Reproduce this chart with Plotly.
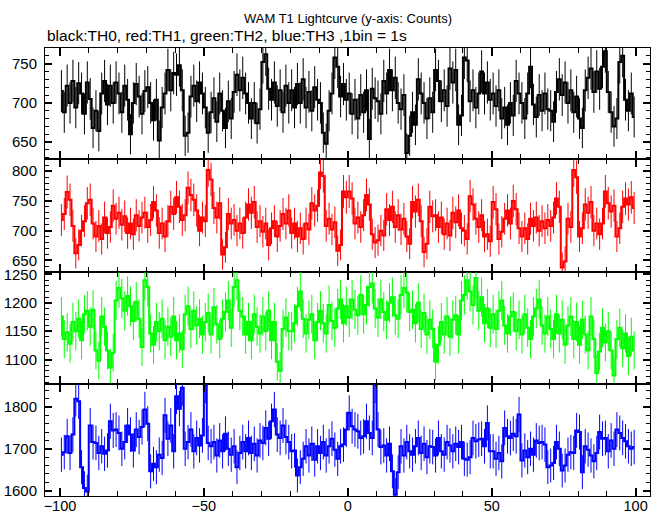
import numpy as np
import plotly.graph_objects as go

# time bins (1 s each), bin centres from -99.5 to 99.5
time_start = -100
n_bins = 200

th0_counts = [
    715, 688, 722, 700, 728, 694, 725, 712, 686, 726,
    705, 668, 690, 664, 712, 728, 698, 722, 700, 726,
    712, 688, 722, 704, 660, 700, 724, 708, 686, 715,
    720, 700, 678, 704, 652, 694, 712, 742, 716, 738,
    736, 748, 716, 658, 662, 708, 722, 702, 726, 712,
    694, 662, 688, 706, 676, 712, 690, 668, 702, 680,
    714, 736, 716, 732, 712, 700, 680, 700, 674, 692,
    752, 762, 718, 704, 726, 696, 716, 688, 722, 700,
    716, 694, 724, 700, 730, 694, 714, 690, 720, 704,
    700, 662, 648, 690, 712, 758, 746, 708, 724, 704,
    712, 686, 704, 680, 710, 688, 716, 654, 718, 706,
    702, 686, 728, 712, 742, 716, 732, 700, 692, 710,
    636, 658, 688, 672, 730, 712, 700, 680, 706, 688,
    742, 728, 702, 716, 696, 744, 726, 742, 672, 684,
    758, 754, 702, 716, 694, 712, 740, 712, 726, 704,
    712, 696, 716, 680, 694, 672, 700, 684, 728, 712,
    700, 680, 712, 746, 698, 682, 710, 690, 712, 692,
    690, 676, 714, 730, 710, 726, 700, 716, 688, 708,
    680, 668, 716, 732, 744, 714, 740, 718, 746, 766,
    714, 688, 670, 680, 752, 760, 704, 690, 712, 682,
]

th1_counts = [
    718, 728, 765, 752, 708, 662, 676, 700, 716, 746,
    752, 712, 690, 708, 686, 722, 696, 706, 742, 720,
    730, 710, 724, 696, 712, 694, 726, 708, 722, 730,
    706, 718, 748, 734, 696, 712, 690, 716, 740, 728,
    756, 740, 718, 726, 772, 760, 752, 734, 700, 722,
    716, 802, 786, 738, 722, 746, 660, 672, 728, 712,
    718, 700, 712, 696, 722, 744, 730, 748, 706, 716,
    698, 712, 676, 704, 716, 690, 708, 728, 712, 734,
    696, 712, 690, 704, 686, 712, 702, 746, 734, 742,
    798, 792, 708, 720, 702, 714, 666, 676, 766, 756,
    766, 754, 712, 722, 706, 726, 760, 744, 694, 680,
    684, 700, 692, 736, 718, 740, 706, 726, 702, 720,
    690, 678, 748, 732, 752, 716, 664, 678, 740, 724,
    726, 706, 722, 694, 712, 692, 730, 714, 734, 704,
    700, 686, 758, 744, 720, 706, 726, 690, 694, 682,
    748, 736, 686, 698, 720, 734, 712, 750, 736, 704,
    690, 704, 686, 720, 708, 722, 700, 716, 704, 718,
    708, 722, 754, 740, 638, 648, 720, 706, 802, 790,
    690, 704, 744, 730, 748, 700, 712, 694, 712, 766,
    746, 732, 742, 690, 704, 740, 754, 744, 756, 738,
]

th2_counts = [
    1176, 1136, 1148, 1128, 1166, 1150, 1172, 1134, 1180, 1186,
    1158, 1188, 1116, 1098, 1176, 1158, 1116, 1086, 1112, 1204,
    1226, 1208, 1186, 1212, 1194, 1168, 1202, 1172, 1122, 1240,
    1228, 1146, 1126, 1166, 1150, 1172, 1134, 1158, 1140, 1176,
    1134, 1146, 1118, 1180, 1194, 1154, 1186, 1160, 1172, 1144,
    1166, 1182, 1144, 1192, 1162, 1136, 1172, 1184, 1204, 1156,
    1228, 1240, 1186, 1176, 1144, 1166, 1134, 1180, 1158, 1146,
    1176, 1150, 1186, 1134, 1166, 1096, 1080, 1154, 1174, 1150,
    1150, 1164, 1194, 1220, 1172, 1146, 1170, 1180, 1134, 1166,
    1186, 1164, 1146, 1196, 1168, 1156, 1190, 1206, 1164, 1194,
    1174, 1206, 1188, 1178, 1214, 1180, 1196, 1228, 1234, 1190,
    1174, 1206, 1184, 1170, 1200, 1210, 1178, 1172, 1214, 1226,
    1218, 1184, 1188, 1164, 1200, 1154, 1182, 1144, 1170, 1154,
    1096, 1126, 1166, 1144, 1176, 1140, 1170, 1178, 1144, 1204,
    1214, 1240, 1220, 1196, 1244, 1186, 1210, 1164, 1190, 1156,
    1180, 1154, 1186, 1204, 1160, 1146, 1176, 1184, 1150, 1170,
    1144, 1180, 1156, 1136, 1176, 1190, 1206, 1160, 1146, 1176,
    1154, 1136, 1180, 1146, 1170, 1126, 1160, 1176, 1136, 1166,
    1126, 1170, 1144, 1116, 1176, 1136, 1076, 1114, 1156, 1130,
    1150, 1116, 1072, 1136, 1156, 1120, 1146, 1106, 1140, 1116,
]

th3_counts = [
    1686, 1692, 1730, 1690, 1734, 1820, 1814, 1656, 1606, 1598,
    1756, 1716, 1714, 1690, 1706, 1688, 1696, 1766, 1744, 1746,
    1738, 1700, 1716, 1756, 1734, 1696, 1746, 1728, 1752, 1794,
    1760, 1646, 1664, 1656, 1686, 1678, 1780, 1724, 1756, 1694,
    1826, 1796, 1846, 1700, 1716, 1746, 1694, 1726, 1708, 1732,
    1852, 1714, 1706, 1716, 1684, 1720, 1694, 1736, 1700, 1686,
    1706, 1656, 1690, 1716, 1694, 1726, 1690, 1712, 1684, 1720,
    1714, 1750, 1724, 1766, 1794, 1734, 1726, 1756, 1728, 1716,
    1694, 1696, 1636, 1656, 1676, 1706, 1684, 1712, 1674, 1706,
    1690, 1716, 1684, 1706, 1724, 1698, 1676, 1706, 1710, 1746,
    1786, 1754, 1746, 1742, 1726, 1730, 1766, 1738, 1726, 1852,
    1746, 1704, 1708, 1684, 1712, 1646, 1590, 1644, 1706, 1684,
    1716, 1694, 1686, 1706, 1726, 1690, 1712, 1680, 1706, 1704,
    1684, 1726, 1694, 1686, 1716, 1708, 1694, 1712, 1704, 1716,
    1676, 1674, 1680, 1726, 1718, 1722, 1724, 1706, 1762, 1694,
    1694, 1676, 1690, 1670, 1750, 1730, 1726, 1736, 1730, 1782,
    1672, 1696, 1680, 1700, 1686, 1720, 1714, 1716, 1710, 1656,
    1660, 1666, 1716, 1700, 1648, 1660, 1686, 1692, 1690, 1744,
    1740, 1644, 1706, 1698, 1684, 1670, 1690, 1740, 1724, 1726,
    1694, 1720, 1700, 1746, 1738, 1726, 1718, 1706, 1700, 1704,
]

series = [th0_counts, th1_counts, th2_counts, th3_counts]
colors = ["#000000", "#ff0000", "#00ff00", "#0000ff"]
y_ranges = [[628, 770], [630, 820], [1056, 1254], [1587, 1854]]
y_major = [50, 50, 50, 100]
y_minor = [10, 10, 10, 20]
x_tick_vals = [-100, -50, 0, 50, 100]

t = np.arange(time_start, time_start + n_bins) + 0.5

domains = [[0.7515, 1.0], [0.4995, 0.7515], [0.249, 0.4995], [0.0, 0.249]]

fig = go.Figure()
font_family = "Liberation Sans, Arial, sans-serif"

for i, (vals, col) in enumerate(zip(series, colors)):
    v = np.array(vals, dtype=float)
    ax = "" if i == 0 else str(i + 1)
    fig.add_trace(go.Scatter(
        x=t, y=v, mode="lines", line=dict(color=col, width=2, shape="hvh"),
        error_y=dict(type="data", array=np.sqrt(v), thickness=1, width=0, color=col),
        xaxis="x" + ax, yaxis="y" + ax, showlegend=False, hoverinfo="skip"))
    common_x = dict(
        range=[-105.2, 105], domain=[0, 1], anchor="y" + ax, automargin=False,
        showline=True, linecolor="black", linewidth=1, mirror="allticks",
        ticks="inside", ticklen=8, tickwidth=2, tickcolor="black",
        tickvals=x_tick_vals, showgrid=False, zeroline=False,
        minor=dict(dtick=10, ticks="inside", ticklen=5, tickwidth=1, tickcolor="black"),
        showticklabels=(i == 3),
        tickfont=dict(family=font_family, size=14.5, color="black"),
        ticklabelstandoff=-3,
    )
    if i > 0:
        common_x["matches"] = "x"
    fig.layout["xaxis" + ax] = common_x
    fig.layout["yaxis" + ax] = dict(
        range=y_ranges[i], domain=domains[i], anchor="x" + ax, automargin=False,
        showline=True, linecolor="black", linewidth=1, mirror="allticks",
        ticks="inside", ticklen=7, tickwidth=2, tickcolor="black",
        dtick=y_major[i], showgrid=False, zeroline=False,
        minor=dict(dtick=y_minor[i], ticks="inside", ticklen=4, tickwidth=1, tickcolor="black"),
        tickfont=dict(family=font_family, size=15, color="black"),
        ticklabelstandoff=4,
    )

fig.add_annotation(text="WAM T1 Lightcurve (y-axis: Counts)", xref="paper", yref="paper",
                   x=0.5, y=1, yshift=30, xanchor="center", yanchor="middle", showarrow=False,
                   font=dict(family=font_family, size=13, color="black"))
fig.add_annotation(text="black:TH0, red:TH1, green:TH2, blue:TH3 ,1bin = 1s", xref="paper", yref="paper",
                   x=0, y=1, yshift=13, xshift=0, xanchor="left", yanchor="middle", showarrow=False,
                   font=dict(family=font_family, size=15.5, color="black"))

fig.update_layout(
    width=662, height=515,
    margin=dict(l=45, r=12, t=48, b=19, autoexpand=False),
    paper_bgcolor="white", plot_bgcolor="white",
)

# remove the default 8 px page margin so the figure sits at the window's corner
fig.write_html("out.html", config={"displayModeBar": False},
               post_script="document.body.style.margin='0px';")
